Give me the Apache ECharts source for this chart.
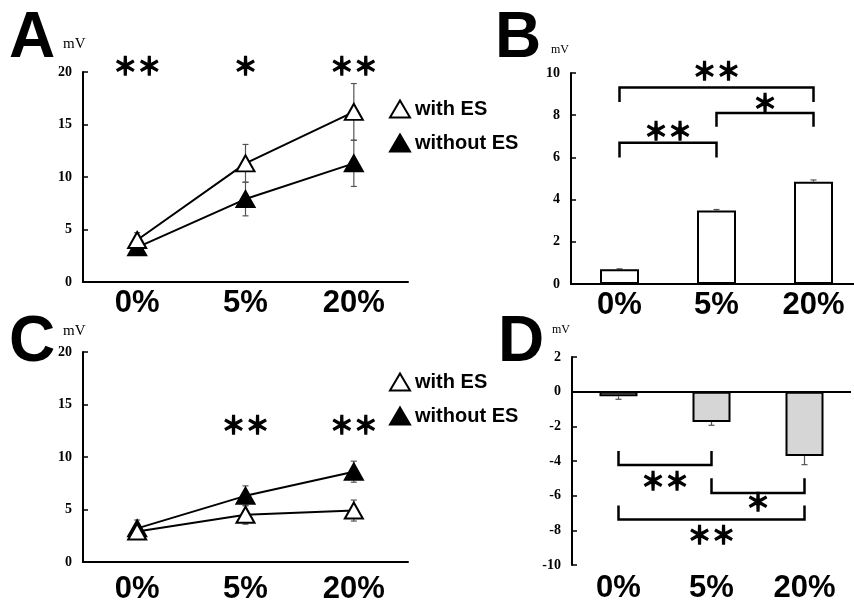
<!DOCTYPE html>
<html><head><meta charset="utf-8">
<script src="https://cdn.jsdelivr.net/npm/echarts@6/dist/echarts.min.js"></script>
<style>html,body{margin:0;padding:0;background:#fff}#c{width:854px;height:602px}</style>
</head><body><div id="c"></div>
<script>
// ---- data ----
const categories = ['0%', '5%', '20%'];
// Panel A
const aWithES = [4.0, 11.3, 16.2];
const aWithESErr = [0.7, 1.8, 2.7];
const aWithoutES = [3.3, 7.9, 11.3];
const aWithoutESErr = [0.5, 1.6, 2.2];
const aStars = [[0, 0, 20.6, '＊＊'], [1, 1, 20.6, '＊'], [2, 2, 20.6, '＊＊']];
// Panel B
const bValues = [0.7, 3.48, 4.85];
const bErr = [0.02, 0.05, 0.08];
const bBrackets = [[0, 2, 9.31, 8.63], [1, 2, 8.1, 7.45], [0, 1, 6.69, 6.0]];
const bStars = [[0, 2, 10.1, '＊＊'], [1, 2, 8.57, '＊'], [0, 1, 7.24, '＊＊']];
// Panel C
const cWithES = [2.9, 4.5, 4.9];
const cWithESErr = [0.6, 0.9, 1.0];
const cWithoutES = [3.2, 6.3, 8.6];
const cWithoutESErr = [0.8, 0.95, 1.0];
const cStars = [[1, 1, 13.1, '＊＊'], [2, 2, 13.1, '＊＊']];
// Panel D
const dValues = [-0.27, -1.75, -3.71];
const dErr = [0.17, 0.19, 0.5];
const dBrackets = [[0, 1, -4.23, -3.43], [1, 2, -5.85, -5.0], [0, 2, -7.37, -6.57]];
const dStars = [[0, 1, -5.14, '＊＊'], [1, 2, -6.38, '＊'], [0, 2, -8.29, '＊＊']];

const seriesNames = ['with ES', 'without ES'];

// ---- helpers ----
function errData(vals, errs) { return vals.map((v, i) => [i, v, errs[i]]); }
function errSeries(idx, vals, errs, dir) {
  return {
    type: 'custom', xAxisIndex: idx, yAxisIndex: idx, z: 1, silent: true,
    data: errData(vals, errs),
    renderItem: function (params, api) {
      const x = api.value(0), v = api.value(1), e = api.value(2);
      const hi = (dir === 'up' || dir === 'both') ? v + e : v;
      const lo = (dir === 'down' || dir === 'both') ? v - e : v;
      const p1 = api.coord([x, hi]), p2 = api.coord([x, lo]);
      const w = 3, st = { stroke: '#555', lineWidth: 1.2 };
      const ch = [{ type: 'line', shape: { x1: p1[0], y1: p1[1], x2: p2[0], y2: p2[1] }, style: st }];
      if (dir !== 'down') ch.push({ type: 'line', shape: { x1: p1[0] - w, y1: p1[1], x2: p1[0] + w, y2: p1[1] }, style: st });
      if (dir !== 'up') ch.push({ type: 'line', shape: { x1: p2[0] - w, y1: p2[1], x2: p2[0] + w, y2: p2[1] }, style: st });
      return { type: 'group', children: ch };
    }
  };
}
function bracketSeries(idx, brackets) {
  return {
    type: 'custom', xAxisIndex: idx, yAxisIndex: idx, z: 5, silent: true,
    data: brackets,
    renderItem: function (params, api) {
      const b = brackets[params.dataIndex];
      const pts = [api.coord([b[0], b[3]]), api.coord([b[0], b[2]]), api.coord([b[1], b[2]]), api.coord([b[1], b[3]])];
      return { type: 'polyline', shape: { points: pts }, style: { stroke: '#000', lineWidth: 2.5, fill: null } };
    }
  };
}
function starSeries(idx, stars) {
  return {
    type: 'custom', xAxisIndex: idx, yAxisIndex: idx, z: 6, silent: true,
    data: stars.map(s => [s[0], s[1], s[2]]),
    renderItem: function (params, api) {
      const s = stars[params.dataIndex];
      const p1 = api.coord([s[0], s[2]]), p2 = api.coord([s[1], s[2]]);
      return { type: 'text', style: { text: s[3], x: (p1[0] + p2[0]) / 2, y: p1[1], align: 'center', verticalAlign: 'middle',
        font: 'bold 24px "Noto Sans CJK JP"', fill: '#000', stroke: '#000', lineWidth: 1.3 } };
    }
  };
}
function lineSeries(idx, name, vals, open) {
  return {
    type: 'line', name: name, xAxisIndex: idx, yAxisIndex: idx, data: vals, z: open ? 4 : 3,
    symbol: 'triangle', symbolSize: [18, 16], showSymbol: true, silent: true,
    lineStyle: { color: '#000', width: 2 },
    itemStyle: { color: open ? '#fff' : '#000', borderColor: '#000', borderWidth: 2, opacity: 1 }
  };
}
function xAxis(idx, showLine, margin) {
  return { type: 'category', gridIndex: idx, data: categories,
    axisLine: { show: showLine, onZero: false, lineStyle: { color: '#000', width: 2 } },
    axisTick: { show: false },
    axisLabel: { color: '#000', fontSize: 31, fontWeight: 'bold', fontFamily: 'Liberation Sans', margin: margin },
    splitLine: { show: false } };
}
function yAxis(idx, min, max, interval) {
  return { type: 'value', gridIndex: idx, min: min, max: max, interval: interval,
    axisLine: { show: true, lineStyle: { color: '#000', width: 2 } },
    axisTick: { show: true, inside: true, length: 5, lineStyle: { color: '#000', width: 1.5 } },
    axisLabel: { color: '#000', fontSize: 14, fontWeight: 'bold', fontFamily: 'Liberation Serif', margin: 11 },
    splitLine: { show: false } };
}
function legend(top) {
  return { orient: 'vertical', left: 384, top: top, data: seriesNames, icon: 'triangle',
    itemWidth: 20, itemHeight: 17, itemGap: 14, selectedMode: false,
    textStyle: { color: '#000', fontSize: 20, fontWeight: 'bold', fontFamily: 'Liberation Sans' } };
}
function bigLetter(t, x, y) {
  return { type: 'text', left: x, top: y, style: { text: t, font: 'bold 64px "Liberation Sans"', fill: '#000' } };
}
function mv(x, y, size) {
  return { type: 'text', left: x, top: y, style: { text: 'mV', font: size + 'px "Liberation Serif"', fill: '#000' } };
}

const chart = echarts.init(document.getElementById('c'), null, { renderer: 'canvas' });
chart.setOption({
  animation: false,
  backgroundColor: '#fff',
  grid: [
    { left: 83, top: 72, width: 325, height: 210, outerBoundsMode: 'none', containLabel: false },
    { left: 571, top: 73, width: 291, height: 211, outerBoundsMode: 'none', containLabel: false },
    { left: 83, top: 352, width: 325, height: 210, outerBoundsMode: 'none', containLabel: false },
    { left: 572, top: 357, width: 279, height: 208, outerBoundsMode: 'none', containLabel: false }
  ],
  xAxis: [xAxis(0, true, 6), xAxis(1, true, 6), xAxis(2, true, 12), xAxis(3, false, 8)],
  yAxis: [yAxis(0, 0, 20, 5), yAxis(1, 0, 10, 2), yAxis(2, 0, 20, 5), yAxis(3, -10, 2, 2)],
  legend: [legend(94), legend(367)],
  series: [
    errSeries(0, aWithoutES, aWithoutESErr, 'both'),
    errSeries(0, aWithES, aWithESErr, 'both'),
    lineSeries(0, seriesNames[1], aWithoutES, false),
    lineSeries(0, seriesNames[0], aWithES, true),
    starSeries(0, aStars),

    { type: 'bar', xAxisIndex: 1, yAxisIndex: 1, data: bValues, barWidth: 39, silent: true, z: 2,
      itemStyle: { color: '#fff', borderColor: '#000', borderWidth: 2 } },
    errSeries(1, bValues, bErr, 'up'),
    bracketSeries(1, bBrackets),
    starSeries(1, bStars),

    errSeries(2, cWithoutES, cWithoutESErr, 'both'),
    errSeries(2, cWithES, cWithESErr, 'both'),
    lineSeries(2, seriesNames[1], cWithoutES, false),
    lineSeries(2, seriesNames[0], cWithES, true),
    starSeries(2, cStars),

    { type: 'bar', xAxisIndex: 3, yAxisIndex: 3, data: dValues, barWidth: 38, silent: true, z: 2,
      itemStyle: { color: '#d6d6d6', borderColor: '#000', borderWidth: 2 },
      markLine: { silent: true, symbol: ['none', 'none'], label: { show: false },
        lineStyle: { color: '#000', width: 2, type: 'solid' }, data: [{ yAxis: 0 }] } },
    errSeries(3, dValues, dErr, 'down'),
    bracketSeries(3, dBrackets),
    starSeries(3, dStars)
  ],
  graphic: [
    bigLetter('A', 9, 7), bigLetter('B', 495, 7), bigLetter('C', 9, 311), bigLetter('D', 498, 311),
    mv(63, 37, 15), mv(551, 44, 12), mv(63, 324, 15), mv(552, 324, 12)
  ]
});
</script></body></html>
